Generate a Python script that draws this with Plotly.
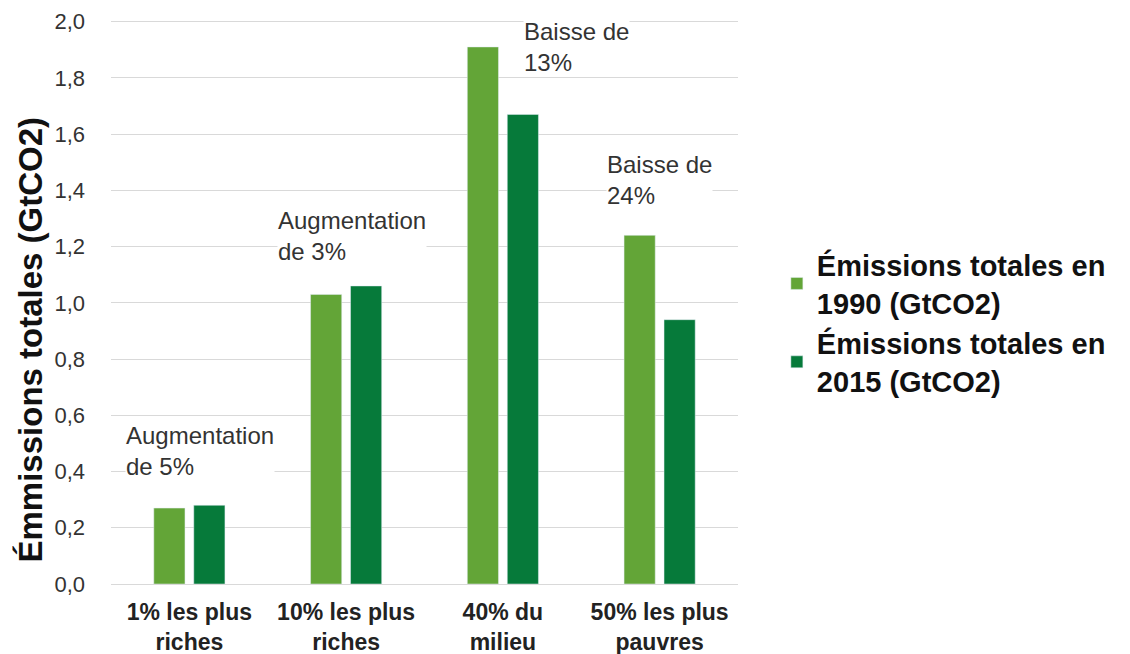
import plotly.graph_objects as go

categories = ['1% les plus<br>riches', '10% les plus<br>riches', '40% du<br>milieu', '50% les plus<br>pauvres']
emissions_1990 = [0.27, 1.03, 1.91, 1.24]
emissions_2015 = [0.28, 1.06, 1.67, 0.94]
notes = ['Augmentation<br>de 5%', 'Augmentation<br>de 3%', 'Baisse de<br>13%', 'Baisse de<br>24%']
note_y = [0.58, 1.345, 2.018, 1.545]    # top of each note, in GtCO2
note_dx = [-0.41, -0.44, 0.13, -0.34]   # left edge, relative to the category
y_ticks = [0, 0.2, 0.4, 0.6, 0.8, 1.0, 1.2, 1.4, 1.6, 1.8, 2.0]

FONT = 'Liberation Sans, Arial, sans-serif'

fig = go.Figure()
fig.add_trace(go.Bar(x=list(range(4)), y=emissions_1990, name='Émissions totales en<br>1990 (GtCO2)',
                     marker_color='#63a537'))
fig.add_trace(go.Bar(x=list(range(4)), y=emissions_2015, name='Émissions totales en<br>2015 (GtCO2)',
                     marker_color='#067a3a'))

# notes above each group, white box hides the gridlines behind them
for i, txt in enumerate(notes):
    fig.add_annotation(x=i + note_dx[i], y=note_y[i], xref='x', yref='y',
                       text=txt, showarrow=False, xanchor='left', yanchor='top', align='left',
                       bgcolor='white', borderpad=0,
                       font=dict(family=FONT, size=24, color='#333333'))

# y title as a free annotation (it sits a bit lower than the plot middle)
fig.add_annotation(x=-0.128, y=0.43, xref='paper', yref='paper', textangle=-90,
                   text='<b>Émmissions totales (GtCO2)</b>', showarrow=False,
                   xanchor='center', yanchor='middle',
                   font=dict(family=FONT, size=33, color='#111111'))

fig.update_layout(
    width=1130, height=654,
    barmode='group', bargap=0.49, bargroupgap=0.22,
    separators=', ',
    paper_bgcolor='white', plot_bgcolor='white',
    margin=dict(l=103, r=400, t=8, b=78),
    font=dict(family=FONT, color='#222222'),
    legend=dict(x=1.062, y=0.46, yanchor='middle', xanchor='left',
                font=dict(family=FONT, size=29, color='#111111', weight='bold'),
                itemwidth=30),
)
fig.update_xaxes(tickmode='array', tickvals=list(range(4)), ticktext=['<b>%s</b>' % c for c in categories],
                 tickfont=dict(size=23, color='#222222'), range=[-0.5, 3.5], showgrid=False,
                 showline=False, ticks='', ticklabelstandoff=12, automargin=False)
fig.update_yaxes(range=[0, 2.02], tickvals=y_ticks, tickformat='.1f', gridcolor='#d9d9d9',
                 zeroline=True, zerolinecolor='#d9d9d9', zerolinewidth=1,
                 tickfont=dict(size=22, color='#333333'), ticks='', ticklabelstandoff=25,
                 automargin=False)

fig.write_html("out.html")
